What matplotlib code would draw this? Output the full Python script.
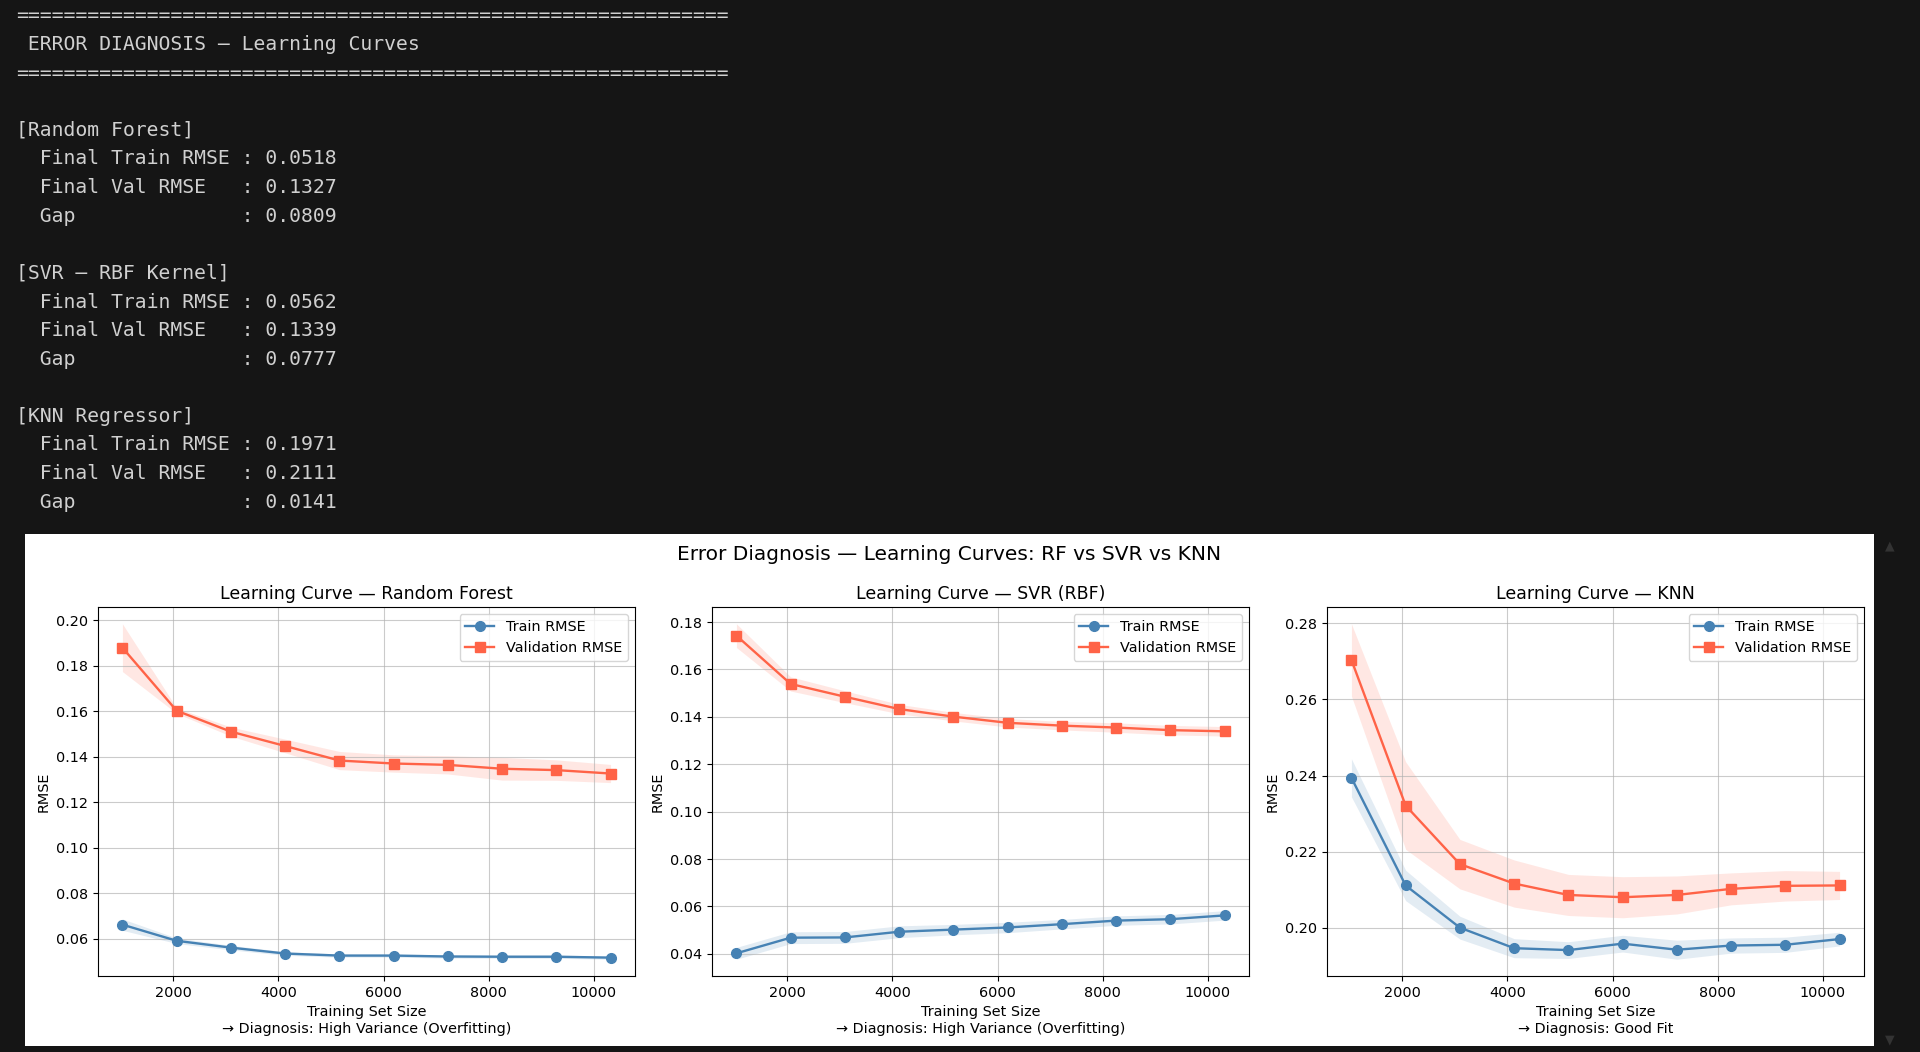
import matplotlib
matplotlib.use("Agg")
import matplotlib.pyplot as plt
import numpy as np
from matplotlib.patches import Rectangle

# ---- data ----
train_sizes = [1032, 2064, 3096, 4128, 5160, 6192, 7224, 8256, 9288, 10320]

rf_train = [0.0663, 0.0592, 0.0562, 0.0536, 0.0527, 0.0527, 0.0523, 0.0522, 0.0522, 0.0518]
rf_train_std = [0.0025, 0.0012, 0.0010, 0.0008, 0.0007, 0.0007, 0.0007, 0.0007, 0.0007, 0.0007]
rf_val = [0.1880, 0.1603, 0.1511, 0.1448, 0.1384, 0.1371, 0.1365, 0.1348, 0.1342, 0.1327]
rf_val_std = [0.0105, 0.0012, 0.0020, 0.0030, 0.0040, 0.0038, 0.0040, 0.0050, 0.0045, 0.0040]

svr_train = [0.0402, 0.0468, 0.0469, 0.0493, 0.0502, 0.0511, 0.0525, 0.0540, 0.0546, 0.0562]
svr_train_std = [0.0025, 0.0025, 0.0025, 0.0025, 0.0022, 0.0022, 0.0020, 0.0020, 0.0020, 0.0020]
svr_val = [0.1743, 0.1539, 0.1485, 0.1433, 0.1401, 0.1375, 0.1363, 0.1355, 0.1344, 0.1339]
svr_val_std = [0.0050, 0.0030, 0.0025, 0.0020, 0.0018, 0.0018, 0.0018, 0.0020, 0.0020, 0.0020]

knn_train = [0.2394, 0.2111, 0.2000, 0.1946, 0.1941, 0.1958, 0.1942, 0.1953, 0.1955, 0.1970]
knn_train_std = [0.0050, 0.0040, 0.0030, 0.0025, 0.0022, 0.0022, 0.0025, 0.0020, 0.0020, 0.0018]
knn_val = [0.2704, 0.2321, 0.2167, 0.2116, 0.2086, 0.2080, 0.2086, 0.2102, 0.2110, 0.2111]
knn_val_std = [0.0095, 0.0115, 0.0065, 0.0062, 0.0054, 0.0054, 0.0050, 0.0042, 0.0040, 0.0037]

model_titles = ["Learning Curve — Random Forest", "Learning Curve — SVR (RBF)", "Learning Curve — KNN"]
diagnoses = ["High Variance (Overfitting)", "High Variance (Overfitting)", "Good Fit"]

console_lines = [
    "=" * 60,
    " ERROR DIAGNOSIS — Learning Curves",
    "=" * 60,
    "",
    "[Random Forest]",
    "  Final Train RMSE : 0.0518",
    "  Final Val RMSE   : 0.1327",
    "  Gap              : 0.0809",
    "",
    "[SVR — RBF Kernel]",
    "  Final Train RMSE : 0.0562",
    "  Final Val RMSE   : 0.1339",
    "  Gap              : 0.0777",
    "",
    "[KNN Regressor]",
    "  Final Train RMSE : 0.1971",
    "  Final Val RMSE   : 0.2111",
    "  Gap              : 0.0141",
]

W, H = 1920, 1052
BG = "#151515"
TRAIN_C = "#4682B4"
VAL_C = "#FF6347"

plt.rcParams["font.family"] = ["DejaVu Sans"]
plt.rcParams["font.size"] = 10.4
plt.rcParams["axes.titlesize"] = 12.5
plt.rcParams["xtick.major.size"] = 3.6
plt.rcParams["ytick.major.size"] = 3.6

fig = plt.figure(figsize=(W / 100, H / 100), dpi=100, facecolor=BG)

# console output text
for i, line in enumerate(console_lines):
    y = 16 + 28.6 * i
    fig.text(16 / W, 1 - y / H, line, family="DejaVu Sans Mono", fontsize=14.2,
             color="#d0d0d0", va="center", ha="left")

# scrollbar arrows
fig.text(1890 / W, 1 - 546 / H, "▲", color="#333333", fontsize=9, ha="center", va="center")
fig.text(1890 / W, 1 - 1040 / H, "▼", color="#333333", fontsize=9, ha="center", va="center")

# white figure area
fig.add_artist(Rectangle((25 / W, 1 - 1046 / H), (1874 - 25) / W, (1046 - 534) / H,
                         transform=fig.transFigure, facecolor="white", edgecolor="none", zorder=-1))

fig.text(949 / W, 1 - 554 / H, "Error Diagnosis — Learning Curves: RF vs SVR vs KNN",
         fontsize=14.5, ha="center", va="center")


def px_axes(left, top, right, bottom):
    return fig.add_axes([left / W, 1 - bottom / H, (right - left) / W, (bottom - top) / H])


lefts = [98, 712, 1327]
rights = [635, 1249, 1864]
series = [
    (rf_train, rf_train_std, rf_val, rf_val_std),
    (svr_train, svr_train_std, svr_val, svr_val_std),
    (knn_train, knn_train_std, knn_val, knn_val_std),
]

x = np.array(train_sizes)
for k in range(3):
    tr, tr_s, va, va_s = [np.array(a) for a in series[k]]
    ax = px_axes(lefts[k], 607, rights[k], 976)
    ax.fill_between(x, tr - tr_s, tr + tr_s, color=TRAIN_C, alpha=0.15, lw=0)
    ax.fill_between(x, va - va_s, va + va_s, color=VAL_C, alpha=0.15, lw=0)
    ax.plot(x, tr, "o-", color=TRAIN_C, lw=1.7, ms=7, label="Train RMSE")
    ax.plot(x, va, "s-", color=VAL_C, lw=1.7, ms=7, label="Validation RMSE")
    ax.set_title(model_titles[k])
    ax.set_xlabel("Training Set Size\n→ Diagnosis: " + diagnoses[k])
    ax.set_ylabel("RMSE")
    ax.set_xticks([2000, 4000, 6000, 8000, 10000])
    ax.grid(True, alpha=0.65)
    ax.legend(loc="upper right")

fig.savefig("out.png", dpi=100, facecolor=BG)
